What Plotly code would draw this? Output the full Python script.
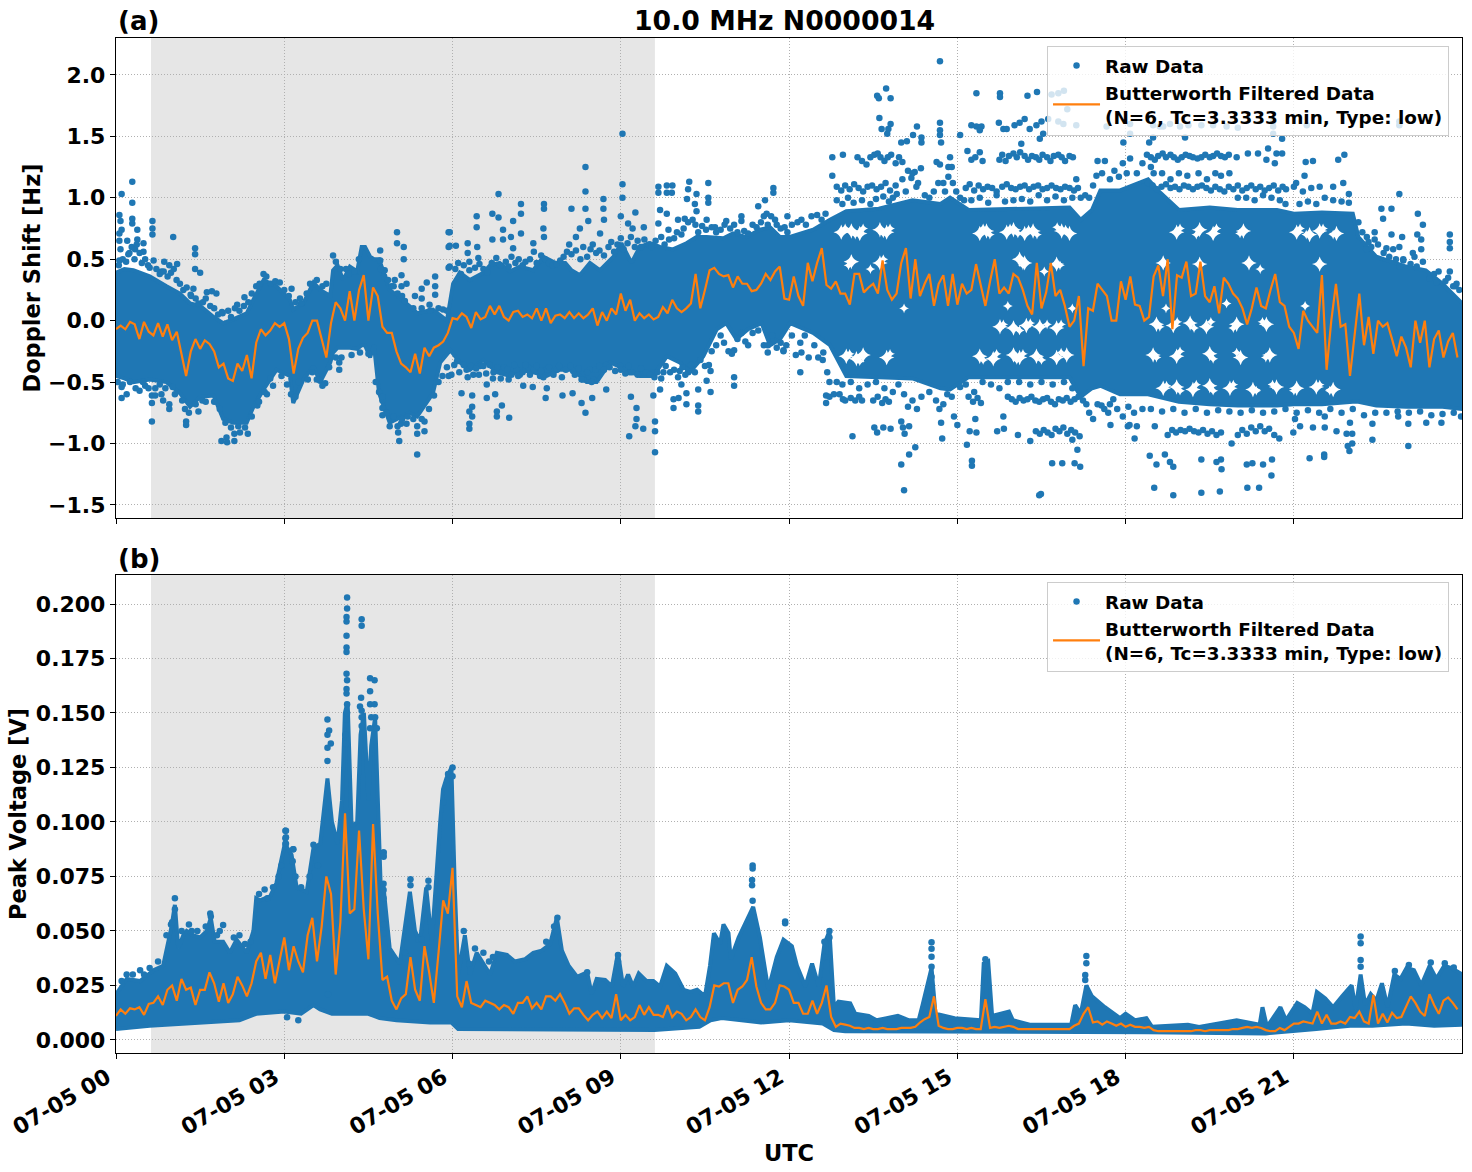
import numpy as np
import pandas as pd
import plotly.graph_objects as go

DAY = pd.Timestamp("2023-07-05")
BLUE = "#1f77b4"
ORANGE = "#ff7f0e"
FILTER_LABEL = "Butterworth Filtered Data<br>(N=6, Tc=3.3333 min, Type: low)"

# ---- Doppler shift: extent of the dense cloud of samples (hours, Hz) ----
doppler_top_hours = [0, .15, .31, .6, .9, 1.14, 1.32, 1.5, 1.74, 1.91, 2.09, 2.33, 2.45, 2.63, 2.86, 3.1, 3.16, 3.34,
                     3.52, 3.64, 3.82, 3.87, 3.95, 4.05, 4.17, 4.3, 4.38, 4.44, 4.53, 4.6, 4.69, 4.88, 5.23, 5.37,
                     5.65, 5.9,
                     6.01, 6.13, 6.31, 6.55, 6.67, 6.84, 7.02, 7.2, 7.44, 7.62, 7.83, 8.01, 8.12, 8.27, 8.45, 8.63, 8.87,
                     9.01, 9.19, 9.34, 9.52, 9.7, 9.93, 10.17, 10.35, 10.53, 10.83, 11.0, 11.24, 11.48, 11.66, 11.84, 12.0,
                     12.43, 12.73, 13.02, 13.6, 14.2, 14.7, 14.87, 15.2, 16.0, 17.0, 17.2, 17.4, 17.55, 17.9, 18.4,
                     18.6, 18.95, 19.5, 20.0, 20.7, 21.0, 21.5, 22.05, 22.15, 22.47, 23.0, 23.35, 23.65, 24.0]
doppler_top_values = [.39, .42, .41, .36, .28, .22, .14, .12, .03, -.02, .01, .06, .17, .33, .28, .17, .09, .14,
                      .31, .25, .2, .41, .45, .33, .44, .4, .6, .6, .52, .5, .5, .25, .12, .06,
                      .09, .0,
                      .3, .39, .33, .39, .45, .47, .4, .44, .41, .52, .47, .47, .41, .37, .47, .41, .52,
                      .63, .47, .6, .63, .6, .58, .63, .68, .68, .67, .71, .68, .74, .76, .68, .68,
                      .74, .82, .89, .91, .98, .95, 1.0, .9, .91, .92, .82, .9, 1.06, 1.06, 1.15,
                      1.05, .9, .92, .9, .9, .87, .88, .87, .68, .52, .44, .41, .3, .14]
doppler_bottom_hours = [0, .15, .31, .6, .9, 1.14, 1.32, 1.5, 1.74, 1.91, 2.09, 2.33, 2.45, 2.63, 2.86, 3.1, 3.16, 3.34,
                        3.52, 3.64, 3.82, 3.87, 3.95, 4.05, 4.17, 4.3, 4.38, 4.44, 4.53, 4.6, 4.69, 4.88, 5.23, 5.37,
                        5.65, 5.78,
                        5.96, 6.13, 6.31, 6.55, 6.79, 7.02, 7.2, 7.44, 7.68, 7.91, 8.15, 8.39, 8.57, 8.81, 9.1, 9.34, 9.58,
                        9.82, 10.05, 10.23, 10.47, 10.71, 10.88, 11.06, 11.27, 11.51, 11.66, 11.84, 12.02,
                        12.43, 12.73, 13.02, 13.6, 14.2, 14.7, 14.87, 15.2, 16.0, 17.0, 17.2, 17.4, 17.55, 17.9, 18.4,
                        18.6, 18.95, 19.5, 20.0, 20.7, 21.0, 21.5, 22.05, 22.15, 22.47, 23.0, 23.35, 23.65, 24.0]
doppler_bottom_values = [-.45, -.47, -.5, -.48, -.5, -.59, -.7, -.62, -.61, -.8, -.83, -.83, -.7, -.56, -.4, -.45, -.67, -.48,
                         -.37, -.5, -.34, -.26, -.22, -.22, -.22, -.23, -.2, -.2, -.3, -.2, -.59, -.83, -.75, -.78,
                         -.59, -.34,
                         -.24, -.34, -.4, -.32, -.42, -.45, -.4, -.42, -.45, -.4, -.4, -.5, -.5, -.34, -.4, -.45, -.45,
                         -.29, -.34, -.42, -.29, -.07, -.02, -.15, -.07, -.02, -.2, -.15, -.02,
                         -.1, -.2, -.45, -.46, -.47, -.55, -.56, -.46, -.46, -.46, -.62, -.55, -.53, -.6, -.6,
                         -.62, -.66, -.68, -.69, -.69, -.68, -.68, -.66, -.66, -.69, -.7, -.7, -.7, -.72]

# Empty pockets between the frequency rows of the afternoon cloud
doppler_gap_hours = [12.93, 13.11, 13.26, 13.62, 13.74, 15.4, 15.52, 15.88, 16.0, 16.2, 16.35, 16.86, 17.0,
                     13.11, 13.62, 16.11, 16.2, 16.77,
                     15.76, 16.0, 16.23, 16.47, 16.77,
                     13.02, 13.2, 13.32, 13.74, 15.4, 15.64, 16.0, 16.11, 16.41, 16.77, 16.95,
                     18.91, 19.32, 19.56, 20.1, 21.05, 21.28, 21.46, 21.76,
                     18.67, 19.32, 20.2, 21.46,
                     18.55, 18.85, 19.15, 19.44, 19.98, 20.51,
                     18.49, 18.91, 19.5, 20.05, 20.57,
                     18.67, 18.91, 19.2, 19.5, 19.86, 20.27, 20.69, 21.05, 21.4, 21.7]
doppler_gap_values = [.72, .73, .71, .74, .72, .71, .73, .72, .74, .71, .73, .73, .71,
                      .48, .47, .5, .47, .46,
                      -.05, -.06, -.04, -.05, -.06,
                      -.29, -.31, -.28, -.3, -.29, -.31, -.28, -.3, -.29, -.3, -.28,
                      .72, .74, .71, .73, .72, .7, .73, .71,
                      .47, .46, .47, .46,
                      -.03, -.04, -.02, -.05, -.03, -.03,
                      -.28, -.29, -.27, -.3, -.28,
                      -.55, -.54, -.56, -.53, -.55, -.56, -.54, -.55, -.54, -.56]
doppler_pocket_hours = [13.0, 13.18, 13.32, 13.68, 13.8, 15.46, 15.58, 15.94, 16.08, 16.27, 16.42, 16.78, 16.93,
                        18.97, 19.26, 19.62, 20.04, 21.11, 21.22, 21.52, 21.7, 13.06, 13.68, 16.17, 16.83,
                        15.82, 16.11, 16.3, 16.6, 16.85, 13.08, 13.26, 13.8, 15.46, 15.7, 16.06, 16.17, 16.5, 16.85,
                        18.61, 18.92, 19.22, 19.52, 19.92, 20.44, 18.55, 18.97, 19.56, 19.98, 20.5,
                        18.73, 18.97, 19.26, 19.56, 19.92, 20.33, 20.62, 21.0, 21.46, 21.64,
                        13.45, 14.05, 15.9, 16.55, 17.05, 18.72, 19.8, 20.4, 21.2]
doppler_pocket_values = [.75, .7, .75, .71, .75, .75, .7, .75, .71, .74, .7, .76, .74,
                         .75, .7, .75, .71, .75, .7, .75, .7, .45, .5, .45, .45,
                         -.03, -.08, -.02, -.03, -.03, -.27, -.33, -.27, -.32, -.27, -.32, -.27, -.32, -.26,
                         -.05, -.01, -.06, -.01, -.06, -.01, -.3, -.25, -.31, -.26, -.3,
                         -.53, -.57, -.52, -.57, -.52, -.57, -.52, -.57, -.52, -.57,
                         .42, .1, .12, .4, .1, .1, .14, .42, .12]

# ---- Doppler shift: individually resolved samples ----
doppler_early_hours = [.1, .29, .29, .29, .29, .38, .06, .08, .1, .06, .06, .08, .06, .2, .38, .49, .34, .22, .49, .65, .65, .65, .67,
                       1.02, .86, .95, 1.09, .81, 1.41, 1.41, 1.41, 1.5, 1.33, 1.62, 1.71, 1.79, 2.16, 2.29, 1.89, 2.63, 3.13, 3.3,
                       3.87, 5.01, 5.01, 5.13, 5.13, 4.97, 5.09, 5.09, 5.18, 5.33, 5.45, 5.45, 5.54, 5.69, 5.69, 5.69, 5.59, 4.71,
                       4.71, 4.79, 4.91, 5.93, 5.93, 5.93,
                       .1, .1, .19, .42, .52, .64, .64, .64, .7, .81, .84, .95, .95, 1.01, 1.25, 1.25, 1.47, 1.54, 1.88, 1.97, 1.98,
                       2.11, 2.11, 2.21, 2.35, 2.52, 2.69, 2.8, 3.98, 3.98, 3.64, 3.73, 4.69, 4.75, 4.75, 4.75, 4.88, 5.02, 5.03,
                       5.05, 5.08, 5.18, 5.37, 5.37, 5.37, 5.5, 5.5, 5.67, 5.93]
doppler_early_values = [1.03, 1.13, .96, .83, .79, .74, .86, .81, .74, .71, .65, .58, .49, .65, .66, .63, .58, .54, .56, .81, .75, .7, .49,
                        .68, .48, .45, .46, .4, .59, .54, .42, .39, .21, .23, .24, .22, .13, .19, .07, .38, .26, .14,
                        .53, .72, .63, .6, .5, .33, .37, .28, .3, .2, .18, .26, .31, .36, .28, .21, .13, .57,
                        .49, .41, .28, .72, .6, .43,
                        -.54, -.63, -.6, -.57, -.53, -.82, -.67, -.61, -.61, -.6, -.65, -.68, -.72, -.54, -.82, -.85, -.74, -.65, -.98, -.95, -.99,
                        -.98, -.92, -.91, -.92, -.69, -.6, -.53, -.34, -.4, -.49, -.51, -.58, -.65, -.71, -.77, -.86, -.86, -.91,
                        -.98, -.84, -.84, -1.09, -.92, -.86, -.82, -.9, -.61, -.45]

doppler_mid_hours = [5.95, 5.95, 6.06, 5.95, 6.27, 6.27, 6.3, 6.43, 6.43, 6.44, 6.46, 6.71, 6.82, 6.82, 6.71, 6.9, 6.9, 7.08, 7.04,
                     7.22, 7.22, 7.22, 7.08, 7.63, 7.63, 7.62, 7.63, 7.44, 8.12, 8.37, 8.37, 8.37, 8.69, 8.69, 8.42, 8.27, 8.2,
                     8.63, 8.7, 9.03, 9.03, 9.03, 9.0, 9.26, 9.13, 9.21, 9.41, 9.67, 9.67, 9.82, 9.92, 9.82, 9.91, 10.22, 10.2,
                     10.18, 10.35, 10.56, 10.56, 10.56, 9.7, 9.82, 9.67, 9.85, 10.02, 10.14, 10.32, 10.35, 10.53, 10.68, 10.88,
                     11.15, 11.15, 11.72, 11.72, 11.57, 11.45, 11.6, 11.75, 11.97, 11.97, 11.27,
                     6.16, 6.35, 6.35, 6.3, 6.35, 6.3, 6.3, 5.98, 6.61, 6.61, 6.76, 6.88, 6.79, 6.79, 7.01, 7.26, 7.43, 7.68,
                     7.66, 7.96, 8.14, 8.3, 8.37, 8.49, 8.74, 9.18, 9.28, 9.28, 9.26, 9.15, 9.4, 9.61, 9.61, 9.61, 9.58, 9.7,
                     9.94, 9.94, 10.03, 10.17, 10.17, 10.38, 10.38, 10.38, 10.6, 10.6, 11.02, 11.02, 10.53, 10.08, 11.27, 11.02,
                     11.62, 11.9,
                     6.25, 6.49, 6.37, 6.73, 6.88, 7.0, 7.14, 7.2, 7.35, 7.56, 7.68, 7.86, 8.15, 8.33, 8.51, 8.45, 8.74, 8.99,
                     9.16, 9.4, 9.58, 9.76, 10.05, 10.2]
doppler_mid_values = [.72, .61, .61, .44, .63, .55, .48, .85, .76, .6, .51, .87, 1.03, .84, .66, .74, .66, .81, .68,
                      .95, .87, .71, .59, .95, .91, .75, .68, .63, .91, 1.25, 1.05, .91, .99, .91, .81, .75, .68,
                      .71, .82, 1.52, 1.11, 1.0, .85, .88, .79, .75, .76, 1.09, 1.04, 1.1, 1.1, 1.04, 1.04, 1.13, 1.07,
                      .99, 1.03, 1.12, 1.0, .96, .9, .87, .79, .74, .82, .83, .95, .89, .82, .76, .81,
                      .85, .81, 1.08, 1.04, .98, .93, .87, .82, .85, .72, .71,
                      -.59, -.61, -.7, -.74, -.78, -.84, -.88, -.44, -.52, -.63, -.6, -.69, -.74, -.78, -.79, -.53, -.54, -.55,
                      -.63, -.61, -.59, -.67, -.75, -.63, -.56, -.62, -.71, -.8, -.86, -.94, -.88, -.82, -.9, -1.07, -.61, -.56,
                      -.64, -.71, -.63, -.59, -.68, -.56, -.69, -.74, -.58, -.41, -.46, -.53, -.49, -.52, -.2, -.24,
                      -.26, -.25,
                      -.4, -.37, -.44, -.42, -.41, -.48, -.4, -.44, -.38, -.45, -.4, -.4, -.41, -.48, -.48, -.4, -.36, -.37,
                      -.42, -.42, -.42, -.42, -.41, -.42]

doppler_late_hours = [14.69, 13.73, 13.57, 13.6, 13.81, 15.34, 15.76, 15.76, 16.25, 16.42, 13.61, 13.65, 13.75, 13.81, 13.77, 14.28, 14.21,
                      14.36, 14.36, 14.0, 14.1, 14.69, 14.69, 14.69, 14.71, 15.05, 15.25, 15.34, 15.43, 15.4, 15.74, 15.82, 15.88,
                      16.02, 16.11, 16.2, 16.29, 16.41, 16.5, 16.53, 16.47, 16.14, 16.62, 16.8, 16.89, 17.12, 16.68, 16.8, 16.9,
                      16.96, 17.66, 12.77, 12.96, 12.77, 14.87, 14.9, 14.84, 14.75, 14.63, 14.69, 14.24, 14.18, 14.27,
                      12.66, 12.66, 12.2, 11.9, 12.22, 12.61, 13.13, 13.52, 13.68, 13.81, 13.57, 14.0, 14.14, 14.25, 14.05, 14.0,
                      14.03, 14.06, 14.14, 14.73, 14.71, 14.94, 15.0, 15.17, 15.26, 15.26, 15.22, 15.34, 15.32, 15.71, 15.83,
                      15.82, 16.08, 16.3, 16.49, 16.46, 16.69, 16.87, 17.09, 17.19, 17.14, 17.05, 17.69, 17.73, 18.04, 17.57, 17.78,
                      18.49, 19.06, 20.63, 20.79, 20.54, 17.96, 18.08, 18.49, 18.79, 18.67, 18.61, 18.97, 19.12, 19.35, 19.56, 19.8,
                      20.0, 20.63, 20.63, 21.23, 22.88, 22.88, 18.08, 19.98, 20.18, 20.36, 20.51, 20.66, 20.69, 20.79, 21.21, 21.34,
                      21.79, 21.9, 22.88, 21.19, 22.56, 22.59, 22.74, 23.21, 23.3, 22.44, 22.74, 22.93, 23.2, 23.27, 23.78, 23.78,
                      23.78, 22.33, 22.44, 22.88, 23.12, 23.27, 23.78, 23.84, 23.88, 23.54, 22.29, 22.65, 22.77, 22.89, 23.19, 22.95,
                      21.04, 21.7, 21.88, 21.98, 21.46, 21.31, 21.16, 21.0,
                      18.52, 18.2, 18.07, 18.16, 18.43, 18.55, 18.7, 18.79, 18.85, 19.35, 19.62, 19.71, 19.7, 20.16, 20.26, 20.45,
                      20.61, 20.6, 18.51, 18.85, 19.35, 19.68, 20.17, 20.38, 19.89, 20.74, 21.28, 21.54, 21.54, 21.96, 22.04, 21.99,
                      23.04, 22.4, 20.99, 21.11, 21.34, 21.55, 21.76, 21.94, 22.04, 22.86, 23.04, 23.36, 23.63, 22.4, 22.0, 21.55, 21.02]
doppler_late_values = [2.11, 1.89, 1.83, 1.81, 1.81, 1.85, 1.85, 1.82, 1.83, 1.86, 1.65, 1.56, 1.52, 1.6, 1.56, 1.58, 1.51,
                       1.49, 1.45, 1.45, 1.46, 1.61, 1.55, 1.51, 1.45, 1.51, 1.59, 1.58, 1.58, 1.55, 1.61, 1.56, 1.56,
                       1.59, 1.61, 1.64, 1.56, 1.59, 1.62, 1.52, 1.48, 1.44, 1.64, 1.62, 1.6, 1.59, 1.84, 1.85, 1.87,
                       1.72, 1.58, 1.33, 1.35, 1.18, 1.33, 1.25, 1.17, 1.12, 1.29, 1.27, 1.21, 1.16, 1.09,
                       -.61, -.67, -.42, -.24, -.26, -.26, -.94, -.87, -.87, -.88, -.91, -1.17, -1.09, -1.03, -1.38, -.82,
                       -.87, -.92, -.86, -.96, -.83, -.78, -.85, -1.01, -1.14, -1.18, -.9, -.91, -.8, -.9, -.88,
                       -.78, -.93, -.98, -1.41, -1.42, -1.16, -1.16, -1.16, -1.19, -1.05, -.97, -.75, -.85, -.86, -.69, -.64,
                       1.49, 1.49, 1.52, 1.48, 1.4, 1.45, 1.52, 1.59, 1.6, 1.58, 1.58, 1.58, 1.59, 1.59, 1.59, 1.58,
                       1.57, 1.62, 1.58, 1.59, 1.62, 1.59, 1.6, 1.33, 1.36, 1.36, 1.31, 1.28, 1.36, 1.36, 1.29, 1.3,
                       1.31, 1.35, 1.03, 1.18, .91, .83, .91, .87, .78, .72, .7, .68, .7, .66, .7, .64,
                       .59, .64, .66, .6, .55, .58, .4, .28, .28, .31, .58, .59, .58, .44, .44, .49,
                       1.12, 1.09, 1.12, 1.03, 1.09, 1.08, 1.05, 1.09,
                       -.86, -.86, -.85, -.96, -1.1, -1.17, -1.09, -1.15, -1.19, -1.13, -1.15, -1.21, -1.13, -1.17, -1.16, -1.17,
                       -1.13, -1.26, -1.36, -1.42, -1.4, -1.39, -1.36, -1.36, -1.0, -.96, -1.12, -1.09, -1.11, -1.02, -1.0, -1.06,
                       -1.02, -.97, -.91, -.86, -.87, -.87, -.9, -.92, -.92, -.78, -.84, -.83, -.83, -.84, -.83, -.78, -.8]

# Samples along the rim of the dense cloud
doppler_rim_early_hours = [.05, .12, .18, .24, .28, .33, .37, .42, .46, .52, .57, .6, .72, .78, .85, .92, .98, 1.03, 1.08, 1.14, 1.2, 1.26,
                           1.34, 1.38, 1.42, 1.47, 1.55, 1.6, 1.68, 1.75, 1.82, 1.9, 2.0, 2.05, 2.12, 2.2, 2.28, 2.36, 2.42, 2.5, 2.56,
                           2.68, 2.76, 2.84, 2.92, 3.0, 3.08, 3.2, 3.28, 3.4, 3.46, 3.58, 3.68, 3.75, 3.92, 4.0, 4.1, 4.15, 4.25, 4.33,
                           4.72, 4.78, 4.85, 4.95, 5.02, 5.1, 5.15, 5.3, 5.45, 5.6, 5.75, 5.83, 5.9,
                           .03, .12, .25, .35, .48, .58, .7, .78, .88, 1.05, 1.18, 1.23, 1.3, 1.42, 1.6, 1.75, 1.85, 1.95, 2.05, 2.18,
                           2.3, 2.42, 2.55, 2.65, 2.75, 2.95, 3.05, 3.12, 3.2, 3.25, 3.42, 3.5, 3.58, 3.68, 3.8, 3.92, 4.02, 4.2, 4.35,
                           4.5, 4.63, 4.75, 4.82, 4.95, 5.1, 5.2, 5.3, 5.45, 5.58, 5.75, 5.82, 5.9]
doppler_rim_early_values = [.45, .5, .48, .55, .6, .5, .62, .55, .47, .5, .45, .43, .42, .38, .4, .36, .39, .42, .33, .3, .25, .27,
                            .2, .26, .18, .14, .15, .18, .12, .1, .05, .06, .08, .03, .1, .08, .12, .15, .22, .28, .3,
                            .36, .3, .32, .31, .25, .2, .15, .18, .22, .3, .33, .28, .3, .48, .42, .42, .38, .4, .5,
                            .42, .36, .33, .28, .22, .2, .16, .1, .1, .08, .1, .09, .08,
                            -.5, -.52, -.5, -.55, -.5, -.55, -.55, -.52, -.55, -.6, -.65, -.72, -.75, -.68, -.66, -.66, -.72, -.83, -.87, -.86,
                            -.87, -.78, -.66, -.58, -.47, -.45, -.52, -.6, -.62, -.5, -.48, -.42, -.48, -.53, -.38, -.3, -.3, -.28, -.26,
                            -.27, -.5, -.62, -.75, -.78, -.8, -.78, -.8, -.8, -.72, -.5, -.45, -.38]

doppler_rim_mid_hours = [6.05, 6.1, 6.15, 6.2, 6.3, 6.4, 6.48, 6.55, 6.62, 6.7, 6.78, 6.85, 6.95, 7.0, 7.05, 7.12, 7.18, 7.25, 7.3, 7.38, 7.45,
                         7.5, 7.58, 7.65, 7.72, 7.78, 7.85, 7.92, 7.98, 8.04, 8.08, 8.12, 8.2, 8.28, 8.33, 8.4, 8.46, 8.5, 8.56, 8.62,
                         8.7, 8.78, 8.83, 8.88, 8.94, 9.0, 9.05, 9.12, 9.18, 9.25, 9.3, 9.36, 9.42, 9.5, 9.55, 9.62, 9.72, 9.78, 9.86,
                         9.95, 10.0, 10.08, 10.12, 10.2, 10.28, 10.33, 10.38, 10.45, 10.52, 10.62, 10.7, 10.78, 10.85, 10.95, 11.02,
                         11.08, 11.2, 11.35, 11.42, 11.5, 11.55, 11.62, 11.68, 11.78, 11.85, 11.92, 12.05, 12.15, 12.22, 12.3, 12.4,
                         12.5, 12.58, 12.65,
                         6.03, 6.08, 6.12, 6.2, 6.27, 6.33, 6.42, 6.47, 6.55, 6.6, 6.66, 6.72, 6.8, 6.86, 6.92, 6.98, 7.05, 7.1, 7.17,
                         7.25, 7.3, 7.38, 7.45, 7.5, 7.58, 7.62, 7.72, 7.8, 7.9, 7.95, 8.02, 8.1, 8.18, 8.25, 8.3, 8.4, 8.48, 8.55, 8.62,
                         8.7, 8.8, 8.9, 9.0, 9.08, 9.14, 9.2, 9.3, 9.36, 9.45, 9.52, 9.6, 9.65, 9.72, 9.8, 9.88, 9.95, 10.02, 10.1,
                         10.15, 10.25, 10.32, 10.42, 10.5, 10.57, 10.62, 10.7, 10.78, 10.84, 10.92, 10.98, 11.08, 11.15, 11.22, 11.35,
                         11.45, 11.55, 11.62, 11.7, 11.78, 11.85, 11.95, 12.05, 12.12, 12.2, 12.28, 12.35, 12.45, 12.52, 12.6, 12.68, 12.72]
doppler_rim_mid_values = [.42, .47, .38, .45, .41, .43, .46, .42, .39, .47, .51, .45, .48, .44, .52, .47, .5, .45, .48, .5, .56,
                          .47, .53, .5, .47, .45, .46, .49, .52, .56, .62, .54, .57, .5, .6, .52, .58, .62, .55, .57,
                          .53, .6, .64, .56, .62, .67, .58, .63, .68, .6, .65, .6, .66, .62, .6, .65, .68, .62, .66,
                          .67, .72, .7, .75, .8, .82, .78, .72, .77, .74, .76, .72, .74, .78, .75, .78,
                          .72, .73, .78, .76, .8, .85, .78, .85, .78, .75, .76, .78, .8, .82, .78, .85,
                          .86, .82, .87,
                          -.36, -.33, -.42, -.36, -.46, -.37, -.39, -.44, -.37, -.43, -.36, -.47, -.38, -.47, -.38, -.4, -.44, -.36, -.45,
                          -.42, -.36, -.44, -.4, -.37, -.41, -.46, -.38, -.44, -.37, -.46, -.4, -.37, -.44, -.39, -.48, -.42, -.5, -.4, -.37,
                          -.4, -.38, -.41, -.4, -.43, -.37, -.42, -.44, -.39, -.42, -.44, -.46, -.42, -.47, -.37, -.42, -.4, -.46, -.38,
                          -.44, -.36, -.42, -.32, -.37, -.36, -.25, -.2, -.12, -.18, -.25, -.27, -.15, -.1, -.17, -.1,
                          -.08, -.2, -.2, -.12, -.22, -.18, -.2, -.12, -.28, -.18, -.12, -.3, -.2, -.3, -.32, -.42, -.5]

doppler_rim_late_hours = [12.85, 12.95, 13.05, 13.15, 13.3, 13.45, 13.55, 13.68, 13.78, 13.85, 13.92, 14.02, 14.08, 14.12, 14.2, 14.3, 14.35, 14.42,
                          14.5, 14.58, 14.66, 14.78, 14.84, 14.92, 14.98, 15.05, 15.12, 15.25, 15.4, 15.55, 15.7, 15.85, 16.0, 16.15, 16.3,
                          16.45, 16.6, 16.75, 16.9, 17.05, 17.12, 17.2, 17.28, 17.35, 17.42, 17.48, 17.5, 17.58, 17.63, 17.72, 17.8, 17.88,
                          17.95, 18.02, 18.08, 18.2, 18.3, 18.38, 18.42, 18.45, 18.5, 18.65, 18.8, 18.95, 19.1, 19.3, 19.45, 19.6, 19.7,
                          19.85, 20.0, 20.15, 20.3, 20.45, 20.6, 20.75, 20.85, 21.1, 21.25, 21.4, 21.55, 21.7, 21.85, 21.98, 22.15, 22.22,
                          22.3, 22.38, 22.5, 22.6, 22.7, 22.82, 22.95, 23.08, 23.15, 23.3, 23.42, 23.5, 23.58, 23.7, 23.75, 23.9, 23.95,
                          12.85, 12.95, 13.1, 13.25, 13.4, 13.55, 13.7, 13.85, 13.95, 14.05, 14.12, 14.2, 14.28, 14.36, 14.5, 14.62, 14.68,
                          14.75, 14.82, 14.9, 15.05, 15.15, 15.3, 15.45, 15.6, 15.75, 15.9, 16.1, 16.3, 16.5, 16.7, 16.9, 17.05, 17.3, 17.35,
                          17.42, 17.5, 17.62, 17.72, 17.85, 17.95, 18.05, 18.15, 18.3, 18.45, 18.65, 18.85, 19.05, 19.25, 19.45, 19.65, 19.85,
                          20.05, 20.25, 20.45, 20.65, 20.85, 21.05, 21.25, 21.45, 21.65, 21.85, 22.05, 22.25, 22.45, 22.65, 22.85, 23.05,
                          23.25, 23.45, 23.65, 23.85, 23.98]
doppler_rim_late_values = [.98, .95, 1.0, .96, .98, .95, .99, 1.01, .97, 1.0, 1.03, 1.15, 1.05, 1.22, 1.2, 1.12, 1.24, 1.02,
                           1.0, 1.05, 1.12, 1.05, 1.25, 1.12, 1.05, 1.0, .98, .98, 1.0, .96, 1.02, .97, .98, .99, .97,
                           1.02, .98, 1.01, .98, 1.0, 1.15, 1.0, 1.02, 1.0, 1.1, 1.18, 1.3, 1.2, 1.3, 1.15, 1.22, 1.17,
                           1.28, 1.2, 1.32, 1.2, 1.28, 1.35, 1.45, 1.25, 1.2, 1.2, 1.15, 1.2, 1.18, 1.2, 1.15, 1.2, 1.18,
                           1.2, 1.0, 1.0, .98, 1.02, 1.0, .98, .95, .95, .97, .95, 1.0, .98, .97, .96, .8, .72,
                           .68, .6, .62, .55, .52, .5, .5, .46, .52, .48, .34, .38, .4, .32, .35, .3, .25,
                           -.5, -.52, -.5, -.55, -.52, -.5, -.55, -.58, -.52, -.6, -.7, -.65, -.72, -.62, -.58, -.65, -.72,
                           -.68, -.6, -.62, -.54, -.52, -.58, -.5, -.52, -.55, -.5, -.5, -.52, -.5, -.52, -.5, -.55, -.68, -.75,
                           -.8, -.68, -.72, -.68, -.72, -.78, -.7, -.75, -.72, -.72, -.74, -.72, -.75, -.72, -.75, -.73, -.74,
                           -.75, -.73, -.75, -.74, -.72, -.75, -.73, -.75, -.72, -.75, -.72, -.77, -.75, -.75, -.74, -.75,
                           -.74, -.77, -.76, -.75, -.78]

# Samples strung along the discrete Doppler rows
row_133_hours = [13.22, 13.3, 13.38, 13.45, 13.52, 13.58, 13.63, 13.7, 13.76, 13.82, 13.9, 13.96, 14.02,
                 15.18, 15.25, 15.32, 15.4, 15.45, 15.75, 15.8, 15.86, 15.92, 16.0, 16.06, 16.12, 16.2, 16.26, 16.33, 16.4,
                 16.46, 16.52, 16.6, 16.66, 16.72, 16.8, 16.86, 16.92, 17.0, 17.06,
                 18.45, 18.52, 18.58, 18.66, 18.72, 18.8, 18.86, 18.93, 19.0, 19.07, 19.14, 19.2, 19.28, 19.35, 19.42, 19.5,
                 19.56, 19.63, 19.7, 19.77, 19.84]
row_133_values = [1.33, 1.3, 1.27, 1.33, 1.35, 1.36, 1.33, 1.3, 1.33, 1.35, 1.28, 1.33, 1.29,
                  1.38, 1.31, 1.33, 1.37, 1.3, 1.31, 1.35, 1.3, 1.34, 1.36, 1.33, 1.37, 1.34, 1.31, 1.34, 1.33,
                  1.31, 1.35, 1.33, 1.3, 1.34, 1.35, 1.33, 1.3, 1.34, 1.33,
                  1.33, 1.31, 1.34, 1.36, 1.33, 1.35, 1.33, 1.31, 1.33, 1.35, 1.34, 1.33, 1.32, 1.33, 1.35, 1.33,
                  1.34, 1.36, 1.34, 1.33, 1.35]
row_108_hours = [12.85, 12.93, 13.0, 13.08, 13.16, 13.24, 13.32, 13.4, 13.48, 13.56, 13.64, 13.72, 13.8, 13.9,
                 15.15, 15.22, 15.3, 15.38, 15.46, 15.54, 15.62, 15.7, 15.8, 15.88, 15.96, 16.04, 16.12, 16.2, 16.28, 16.36,
                 16.44, 16.52, 16.6, 16.68, 16.76, 16.84, 16.92, 17.0, 17.08, 17.15,
                 18.4, 18.48, 18.56, 18.64, 18.72, 18.8, 18.88, 18.96, 19.04, 19.12, 19.2, 19.28, 19.36, 19.44, 19.52, 19.6,
                 19.68, 19.76, 19.84, 19.92, 20.0, 20.08, 20.16, 20.24, 20.32, 20.4, 20.48, 20.56, 20.64, 20.72, 20.8, 20.86]
row_108_values = [1.09, 1.06, 1.1, 1.07, 1.11, 1.08, 1.05, 1.09, 1.1, 1.07, 1.09, 1.12, 1.06, 1.1,
                  1.08, 1.11, 1.06, 1.1, 1.07, 1.09, 1.08, 1.05, 1.09, 1.11, 1.08, 1.07, 1.09, 1.1, 1.07, 1.09,
                  1.1, 1.07, 1.08, 1.1, 1.08, 1.07, 1.09, 1.08, 1.06, 1.08,
                  1.12, 1.1, 1.07, 1.09, 1.11, 1.08, 1.09, 1.07, 1.1, 1.09, 1.07, 1.09, 1.1, 1.08, 1.06, 1.09,
                  1.07, 1.05, 1.09, 1.07, 1.1, 1.06, 1.08, 1.1, 1.07, 1.09, 1.06, 1.08, 1.1, 1.06, 1.09, 1.07]
row_m064_hours = [12.72, 12.8, 12.9, 12.96, 13.0, 13.1, 13.18, 13.25, 13.3, 13.5, 13.58, 13.66, 13.72, 13.78,
                  15.2, 15.28, 15.36, 15.42, 15.9, 15.97, 16.04, 16.11, 16.18, 16.25, 16.32, 16.39, 16.46, 16.53, 16.6, 16.67,
                  16.74, 16.81, 16.88, 16.95, 17.02, 17.09, 17.16, 17.24]
row_m064_values = [-.62, -.6, -.6, -.64, -.65, -.63, -.65, -.62, -.65, -.65, -.62, -.67, -.64, -.66,
                   -.62, -.66, -.63, -.67, -.62, -.64, -.66, -.63, -.65, -.64, -.62, -.65, -.66, -.64, -.63, -.66,
                   -.68, -.64, -.65, -.63, -.66, -.64, -.62, -.65]
row_m090_hours = [16.4, 16.47, 16.54, 16.61, 16.68, 16.75, 16.82, 16.89, 16.96, 17.03, 17.1, 17.18,
                  18.75, 18.83, 18.9, 18.98, 19.06, 19.14, 19.22, 19.3, 19.38, 19.46, 19.54, 19.62, 19.7,
                  20.0, 20.08, 20.16, 20.24, 20.32, 20.4, 20.48, 20.56, 20.65]
row_m090_values = [-.9, -.92, -.89, -.91, -.93, -.88, -.9, -.87, -.92, -.89, -.91, -.94,
                   -.93, -.89, -.91, -.89, -.9, -.88, -.9, -.91, -.89, -.92, -.9, -.93, -.91,
                   -.93, -.89, -.92, -.87, -.9, -.86, -.9, -.88, -.93]

# Low-pass filtered Doppler shift, one value every five minutes
doppler_filtered = [
    -.07, -.04, -.07, -.01, -.03, -.15, -.01, -.09, -.12, -.02, -.13, -.03,
    -.16, -.09, -.27, -.45, -.25, -.15, -.23, -.16, -.19, -.25, -.38, -.35,
    -.47, -.49, -.35, -.41, -.28, -.47, -.18, -.07, -.12, -.08, -.02, -.05,
    -.02, -.15, -.43, -.23, -.14, -.1, .0, .0, -.15, -.3, -.02, .15,
    .1, .0, .24, .0, .25, .37, .0, .27, .2, -.05, -.1, -.1,
    -.25, -.35, -.38, -.42, -.27, -.43, -.22, -.29, -.22, -.2, -.17, -.1,
    .02, .01, .06, .03, -.06, .07, .01, .03, .12, .05, .12, .03,
    .0, .07, .08, .03, .05, .02, .1, .0, .1, -.02, .04, .05,
    .02, .07, .02, .06, .02, .05, .1, -.04, .07, .0, .1, .05,
    .22, .08, .17, .0, .06, .02, .05, .01, .03, .11, .06, .17,
    .1, .07, .1, .14, .38, .1, .25, .41, .43, .38, .36, .37,
    .27, .36, .3, .3, .24, .25, .3, .38, .33, .4, .44, .18,
    .17, .36, .2, .12, .47, .32, .47, .59, .29, .26, .32, .22,
    .22, .13, .38, .38, .23, .27, .3, .22, .49, .25, .17, .22,
    .47, .59, .18, .5, .2, .3, .38, .12, .3, .37, .12, .38,
    .13, .3, .22, .25, .46, .3, .12, .32, .5, .22, .27, .22,
    .38, .35, .25, .12, .05, .47, .1, .23, .47, .2, .25, .12,
    -.05, .0, .2, -.37, .1, .08, .3, .25, .2, .0, .0, .32,
    .17, .36, .13, .12, .0, .03, .36, .45, .2, .5, -.07, .37,
    .35, .48, .2, .22, .48, .2, .15, .28, .06, .35, .3, .22,
    .18, .1, -.03, .1, .27, .12, .1, .25, .38, .15, .12, -.05,
    -.1, -.23, .08, .0, -.05, -.1, .37, -.4, .0, .3, -.05, -.03,
    -.45, -.1, .22, -.2, .03, -.27, .0, -.05, -.02, -.15, -.29, -.13,
    -.22, -.38, .0, -.18, .0, -.38, -.15, -.08, -.3, -.17, -.1, -.3,
]

# ---- Peak voltage: extent of the dense cloud of samples (hours, V) ----
voltage_top_hours = [0, .19, .43, .67, .84, .93, .99, 1.05, 1.11, 1.2, 1.26, 1.38, 1.5, 1.62, 1.69, 1.76, 1.91, 2.03, 2.15,
                     2.33, 2.45, 2.5, 2.57, 2.75, 2.86, 3.01, 3.13, 3.22, 3.4, 3.52, 3.64, 3.77, 3.85, 3.95, 4.03, 4.08,
                     4.13, 4.2, 4.3, 4.36, 4.42, 4.5, 4.55, 4.62, 4.68, 4.72, 4.77, 4.88, 5.06, 5.24, 5.33, 5.42, 5.53,
                     5.63, 5.78, 5.83, 5.89, 5.98, 6.04, 6.1, 6.22, 6.31, 6.43, 6.67, 6.79, 6.97, 7.11, 7.29, 7.44, 7.59,
                     7.74, 7.86, 7.95, 8.07, 8.22, 8.4, 8.48, 8.57, 8.72, 8.84, 8.95, 9.04, 9.13, 9.22, 9.32, 9.46, 9.58,
                     9.7, 9.82, 9.97, 10.12, 10.24, 10.36, 10.5, 10.59, 10.66, 10.77, 10.83, 10.92, 10.96, 11.1, 11.25,
                     11.36, 11.48, 11.54, 11.63, 11.78, 11.9, 12.05, 12.14, 12.29, 12.41, 12.53, 12.63, 12.72, 12.8, 12.88,
                     13.09, 13.18, 13.42, 13.56,
                     13.94, 14.14, 14.31, 14.38, 14.48, 14.54, 14.61, 14.95, 15.42, 15.47, 15.55, 15.62, 15.92,
                     15.99, 16.29, 17.03, 17.1, 17.2, 17.3, 17.4, 17.63, 17.9, 18.0, 18.17, 18.37, 18.47, 19.11, 19.31,
                     19.98, 20.39, 20.44, 20.52, 20.76, 20.86, 21.06, 21.19, 21.33, 21.41, 21.56, 21.7, 21.86, 22.03, 22.1,
                     22.19, 22.27, 22.37, 22.47, 22.57, 22.67, 22.79, 22.9, 23.01, 23.14, 23.27, 23.42, 23.54, 23.68, 23.81, 24.0]
voltage_top_values = [.021, .028, .027, .032, .034, .045, .052, .062, .042, .048, .05, .048, .047, .05, .056, .045, .045, .04, .046,
                      .04, .05, .065, .064, .066, .072, .09, .085, .07, .068, .088, .09, .12, .1, .09, .11, .15,
                      .155, .098, .1, .14, .15, .11, .135, .148, .1, .07, .07, .042, .035, .068, .05, .045, .07,
                      .045, .1, .115, .12, .125, .07, .03, .048, .03, .04, .03, .04, .039, .036, .037, .04, .041,
                      .044, .056, .041, .034, .029, .031, .021, .028, .0275, .0245, .04, .0245, .03, .0245, .0305, .027, .027,
                      .0245, .034, .0305, .023, .022, .023, .02, .034, .049, .044, .053, .049, .037, .047, .055,
                      .061, .047, .037, .023, .038, .046, .043, .034, .0245, .035, .0245, .044, .05, .015, .0176,
                      .0168, .012, .011, .009,
                      .011, .009, .009, .016, .026, .033, .012, .01, .009, .035, .036, .011, .013,
                      .009, .007, .007, .016, .012, .025, .02, .015, .01, .012, .009, .01, .006, .007, .006,
                      .009, .007, .015, .006, .015, .009, .017, .015, .012, .022, .019, .015, .02, .025, .014,
                      .03, .016, .021, .018, .026, .015, .03, .028, .033, .032, .025, .034, .028, .034, .033, .03]
voltage_bottom_hours = [0, .6, 1.2, 1.6, 2.2, 2.5, 3.0, 3.3, 3.52, 3.64, 3.85, 4.5, 4.7, 5.0, 5.6, 5.98, 6.1, 9.6, 9.9, 10.4,
                        10.6, 10.8, 11.5, 12.0, 12.6, 12.8, 13.0, 18.4, 20.5, 21, 21.4, 22, 22.4, 23, 23.5, 24]
voltage_bottom_values = [.005, .0065, .0075, .008, .009, .012, .013, .012, .016, .014, .012, .012, .01, .009, .008, .008, .005, .0045, .005, .006,
                         .009, .01, .008, .009, .0075, .0045, .004, .0035, .003, .004, .005, .0065, .0065, .0075, .0065, .007]

voltage_sample_hours = [4.12, 4.12, 4.11, 4.11, 4.11, 4.11, 4.11, 4.11, 4.12, 4.11, 4.11, 4.12, 4.12, 4.11, 4.09, 4.1,
                        4.38, 4.38, 4.37, 4.35, 4.38, 4.38, 4.38, 4.53, 4.61, 4.53, 4.53, 4.61, 4.55, 4.62, 4.65, 4.53,
                        3.77, 3.8, 3.77, 3.83, 3.77, 3.77, 4.77, 4.77, 3.02, 3.02, 3.02, 3.16, 6.0, 5.92, 6.0, 5.84,
                        11.35, 11.35, 11.34, 11.34, 11.35, 11.93, 11.93, 7.87, 7.81, 7.86, 7.67, 8.95, 8.95, 8.4,
                        12.72, 12.72, 12.63, 12.63, 1.05, 1.05, .19, .43, 1.69, 1.91, .98, 3.03, 3.03, 3.03, 3.16, 3.15,
                        2.95, 3.52, 4.77, 4.77, 4.77, 4.77, 4.77, 4.77, 4.77, 5.25, 5.25, 5.57, 5.57, 5.39, 3.05, 3.25, 3.78,
                        14.54, 14.54, 14.54, 14.54, 14.54, 15.5, 15.5, 17.3, 17.3, 17.28, 17.28,
                        22.19, 22.19, 22.19, 22.19, 22.8, 23.05, 23.44, 23.69, 23.85,
                        .1, .3, .5, .6, .75, .9, 1.0, 1.17, 1.3, 1.35, 1.45, 1.6, 1.68, 1.8, 1.85, 2.1, 2.2, 2.3, 2.4,
                        2.55, 2.65, 2.7, 2.8, 2.9, 3.2, 3.3, 3.45, 3.6, 5.15, 5.45, 6.2, 6.3, 6.4, 6.55, 6.65, 6.72]
voltage_sample_values = [.203, .198, .194, .192, .1855, .18, .178, .168, .165, .161, .159, .154, .15, .147, .14, .136,
                         .193, .19, .157, .153, .151, .148, .144, .166, .165, .16, .154, .154, .148, .148, .143, .143,
                         .147, .142, .14, .136, .134, .128, .086, .084, .096, .0925, .09, .0875, .125, .122, .121, .109,
                         .08, .0787, .0734, .071, .0638, .0543, .0535, .056, .052, .05, .045, .039, .036, .031,
                         .05, .047, .045, .038, .065, .06, .03, .032, .0566, .0527, .053, .096, .093, .09, .0875, .082,
                         .08, .0895, .086, .0844, .0716, .0688, .065, .053, .049, .0737, .071, .073, .07, .046, .0104, .009, .021,
                         .0448, .0418, .0382, .0336, .029, .037, .034, .0385, .0352, .0298, .0275,
                         .0474, .0443, .0367, .0336, .0316, .0344, .0355, .0352, .0332,
                         .027, .03, .03, .033, .036, .048, .054, .05, .053, .05, .05, .052, .058, .048, .05, .047, .048, .044, .045,
                         .067, .069, .065, .07, .075, .075, .07, .075, .08, .04, .046, .05, .035, .042, .04, .036, .038]

# Low-pass filtered peak voltage, one value every five minutes
voltage_filtered = [
    .011, .014, .012, .0145, .014, .015, .0115, .0165, .017, .02, .016, .023,
    .025, .018, .028, .023, .024, .016, .023, .023, .031, .026, .0175, .026,
    .017, .021, .029, .025, .02, .026, .036, .04, .028, .039, .026, .037,
    .047, .032, .043, .036, .031, .048, .056, .036, .052, .075, .067, .03,
    .054, .104, .058, .06, .096, .06, .037, .099, .058, .0275, .029, .018,
    .014, .019, .021, .038, .023, .018, .043, .031, .017, .04, .064, .058,
    .079, .02, .015, .027, .017, .016, .015, .018, .017, .016, .014, .016,
    .015, .012, .017, .017, .02, .0145, .017, .014, .02, .02, .018, .021,
    .017, .012, .0145, .0145, .0115, .009, .0115, .013, .01, .013, .01, .021,
    .009, .0115, .009, .0105, .016, .0115, .015, .0115, .0115, .0105, .016, .0105,
    .013, .012, .009, .0105, .014, .0105, .009, .015, .025, .0245, .026, .026,
    .017, .023, .0245, .0275, .038, .0245, .017, .014, .014, .017, .025, .0245,
    .023, .017, .017, .012, .012, .018, .012, .017, .025, .0105, .006, .0075,
    .007, .0065, .0055, .0055, .005, .0055, .005, .005, .0055, .005, .005, .005,
    .0055, .0055, .0055, .006, .008, .0095, .0105, .02, .0065, .0055, .005, .005,
    .0055, .0055, .005, .0055, .005, .005, .0187, .0055, .006, .0055, .006, .0065,
    .006, .005, .005, .005, .005, .005, .005, .005, .005, .005, .005, .005,
    .005, .0065, .0075, .012, .015, .008, .0085, .007, .0085, .0075, .0065, .0075,
    .006, .007, .006, .006, .0055, .006, .0045, .004, .004, .004, .004, .004,
    .004, .004, .004, .0045, .0045, .004, .0045, .0045, .0045, .0045, .0045, .005,
    .005, .0055, .006, .0055, .006, .0055, .0045, .004, .004, .0055, .0045, .006,
    .0075, .0075, .0085, .008, .0075, .013, .0075, .0115, .0075, .0075, .0085, .0075,
    .0105, .01, .013, .0085, .0075, .0206, .0075, .012, .008, .0125, .01, .0105,
    .015, .02, .017, .013, .011, .021, .016, .012, .018, .0195, .017, .014,
]

TICK_HOURS = [0, 3, 6, 9, 12, 15, 18, 21]
VOLTAGE_TICKS = [0, .025, .05, .075, .1, .125, .15, .175, .2]
DOPPLER_TICKS = [-1.5, -1, -.5, 0, .5, 1, 1.5, 2]
NIGHT_START_HOUR, NIGHT_END_HOUR = 0.624, 9.608


def stamp(hours):
    return DAY + pd.to_timedelta(np.asarray(hours, dtype=float), unit="h")


def filtered_times(values):
    return DAY + pd.to_timedelta(np.arange(len(values)) * 5, unit="min")


def cloud(top_hours, top, bottom_hours, bottom, xaxis, yaxis):
    """Solid body of overlapping samples between an upper and a lower edge."""
    xs = stamp(list(top_hours) + list(bottom_hours)[::-1])
    ys = list(top) + list(bottom)[::-1]
    return go.Scatter(x=xs, y=ys, mode="lines", fill="toself", fillcolor=BLUE,
                      line=dict(color=BLUE, width=4), xaxis=xaxis, yaxis=yaxis,
                      showlegend=False, hoverinfo="skip")


fig = go.Figure()

# Upper panel
fig.add_trace(cloud(doppler_top_hours, doppler_top_values, doppler_bottom_hours, doppler_bottom_values, "x", "y"))
for gap_hours, gap_values, gap_size in ((doppler_gap_hours, doppler_gap_values, 11),
                                        (doppler_pocket_hours, doppler_pocket_values, 7)):
    fig.add_trace(go.Scatter(x=stamp(gap_hours), y=gap_values, mode="markers",
                             marker=dict(color="white", size=gap_size, symbol="star-diamond"),
                             showlegend=False, hoverinfo="skip"))
doppler_hours = (doppler_early_hours + doppler_mid_hours + doppler_late_hours
                 + doppler_rim_early_hours + doppler_rim_mid_hours + doppler_rim_late_hours
                 + row_133_hours + row_108_hours + row_m064_hours + row_m090_hours)
doppler_values = (doppler_early_values + doppler_mid_values + doppler_late_values
                  + doppler_rim_early_values + doppler_rim_mid_values + doppler_rim_late_values
                  + row_133_values + row_108_values + row_m064_values + row_m090_values)
fig.add_trace(go.Scatter(x=stamp(doppler_hours), y=doppler_values, mode="markers", name="Raw Data",
                         marker=dict(color=BLUE, size=6.5), legend="legend"))
fig.add_trace(go.Scatter(x=filtered_times(doppler_filtered), y=doppler_filtered, mode="lines", name=FILTER_LABEL,
                         line=dict(color=ORANGE, width=2.2), legend="legend"))

# Lower panel
fig.add_trace(cloud(voltage_top_hours, voltage_top_values, voltage_bottom_hours, voltage_bottom_values, "x2", "y2"))
fig.add_trace(go.Scatter(x=stamp(voltage_sample_hours), y=voltage_sample_values, mode="markers", name="Raw Data",
                         marker=dict(color=BLUE, size=6.5), xaxis="x2", yaxis="y2", legend="legend2"))
fig.add_trace(go.Scatter(x=filtered_times(voltage_filtered), y=voltage_filtered, mode="lines", name=FILTER_LABEL,
                         line=dict(color=ORANGE, width=2.2), xaxis="x2", yaxis="y2", legend="legend2"))

for xref, yref in (("x", "y domain"), ("x2", "y2 domain")):
    fig.add_shape(type="rect", xref=xref, yref=yref, layer="below",
                  x0=stamp([NIGHT_START_HOUR])[0], x1=stamp([NIGHT_END_HOUR])[0], y0=0, y1=1,
                  fillcolor="rgba(128,128,128,0.2)", line_width=0)

axis_common = dict(showline=True, mirror=True, linecolor="black", linewidth=1.3, ticks="outside", ticklen=5,
                   tickwidth=1.3, tickcolor="black", showgrid=True, gridcolor="#b0b0b0", griddash="1px,2px", gridwidth=1,
                   zeroline=False, automargin=False)
x_range = [DAY, DAY + pd.Timedelta(hours=23, minutes=59, seconds=50)]
tick_stamps = list(stamp(TICK_HOURS))
font_ticks = dict(family="DejaVu Sans", size=22, color="black", weight="bold")
font_title = dict(family="DejaVu Sans", size=22.5, color="black", weight="bold")

fig.update_layout(
    width=1472, height=1172, paper_bgcolor="white", plot_bgcolor="white",
    margin=dict(l=116, r=10, t=38, b=119),
    font=dict(family="DejaVu Sans", weight="bold", color="black"),
    xaxis=dict(axis_common, domain=[0, 1], range=x_range, tickvals=tick_stamps, showticklabels=False, anchor="y"),
    xaxis2=dict(axis_common, domain=[0, 1], range=x_range, tickvals=tick_stamps, tickformat="%m-%d %H",
                tickangle=-30, tickfont=font_ticks, anchor="y2", ticklabelshift=-9, ticklabelstandoff=-3,
                title=dict(text="UTC", font=font_title, standoff=4)),
    yaxis=dict(axis_common, domain=[.5271, 1], range=[-1.606, 2.30], tickvals=DOPPLER_TICKS, tickformat=".1f",
               tickfont=font_ticks, title=dict(text="Doppler Shift [Hz]", font=font_title, standoff=1)),
    yaxis2=dict(axis_common, domain=[0, .4709], range=[-.006, .2133], tickvals=VOLTAGE_TICKS, tickformat=".3f",
                tickfont=font_ticks, title=dict(text="Peak Voltage [V]", font=font_title, standoff=2)),
    legend=dict(x=.6917, y=.992, xanchor="left", yanchor="top", bgcolor="rgba(255,255,255,0.8)",
                bordercolor="#cccccc", borderwidth=1, itemwidth=47, font=dict(size=18.4)),
    legend2=dict(x=.6917, y=.464, xanchor="left", yanchor="top", bgcolor="rgba(255,255,255,0.8)",
                 bordercolor="#cccccc", borderwidth=1, itemwidth=47, font=dict(size=18.4)),
    annotations=[
        dict(text="10.0 MHz N0000014", x=.4963, y=1, xref="paper", yref="paper", xanchor="center", yanchor="bottom",
             yshift=0, showarrow=False, font=dict(size=26.7, color="black")),
        dict(text="(a)", x=0, y=1, xref="paper", yref="paper", xanchor="left", yanchor="bottom",
             yshift=0, showarrow=False, font=dict(size=26, color="black")),
        dict(text="(b)", x=0, y=.4709, xref="paper", yref="paper", xanchor="left", yanchor="bottom",
             yshift=-1, showarrow=False, font=dict(size=26, color="black")),
    ],
)

fig.write_html("out.html")
